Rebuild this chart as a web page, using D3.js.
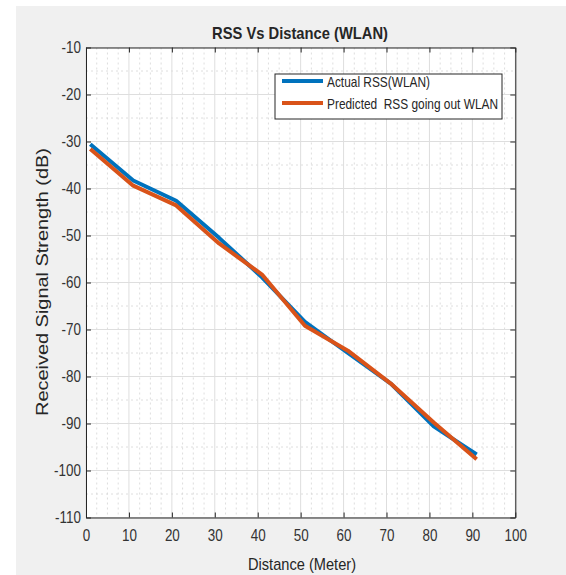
<!DOCTYPE html>
<html>
<head>
<meta charset="utf-8">
<script src="https://cdn.jsdelivr.net/npm/d3@7"></script>
<style>
  body { margin: 0; background: #fff; }
  text { font-family: "Liberation Sans", Arial, sans-serif; fill: #262626; }
</style>
</head>
<body>
<script>
const distance = [1, 11, 21, 31, 41, 51, 61, 71, 81, 91]
const actualRss = [-30.6, -38.3, -42.6, -50.5, -58.9, -68.4, -75.0, -81.5, -90.6, -96.6]
const predictedRss = [-31.6, -39.4, -43.6, -51.7, -58.3, -69.2, -74.5, -81.5, -89.8, -97.6]
const xTicks = [0, 10, 20, 30, 40, 50, 60, 70, 80, 90, 100]
const yTicks = [-10, -20, -30, -40, -50, -60, -70, -80, -90, -100, -110]
const seriesNames = ["Actual RSS(WLAN)", "Predicted  RSS going out WLAN"]
const seriesColors = ["#0072BD", "#D95319"]

const W = 566, H = 575
const plot = { left: 86, right: 515.3, top: 47.5, bottom: 517.5 }
const squeeze = 0.84 // the picture's text is horizontally narrow

const svg = d3.select("body").append("svg")
  .attr("width", W)
  .attr("height", H)

// figure background
svg.append("rect")
  .attr("x", 16).attr("y", 6)
  .attr("width", W - 16).attr("height", H - 6)
  .style("fill", "#f0f0f0")

const x = d3.scaleLinear().domain([0, 100]).range([plot.left, plot.right])
const y = d3.scaleLinear().domain([-110, -10]).range([plot.bottom, plot.top])

svg.append("rect")
  .attr("x", plot.left).attr("y", plot.top)
  .attr("width", plot.right - plot.left).attr("height", plot.bottom - plot.top)
  .style("fill", "white")

// minor grid
const xMinor = d3.range(0, 100.01, 2.5).filter(v => v % 10 !== 0)
const yMinor = d3.range(-110, -9.99, 5).filter(v => v % 10 !== 0)
const grid = svg.append("g")
grid.selectAll(".xm").data(xMinor).join("line")
  .attr("x1", d => x(d)).attr("x2", d => x(d))
  .attr("y1", plot.top).attr("y2", plot.bottom)
  .style("stroke", "#d6d6d6").style("stroke-dasharray", "2,3").style("stroke-width", 0.8)
grid.selectAll(".ym").data(yMinor).join("line")
  .attr("x1", plot.left).attr("x2", plot.right)
  .attr("y1", d => y(d)).attr("y2", d => y(d))
  .style("stroke", "#d6d6d6").style("stroke-dasharray", "2,3").style("stroke-width", 0.8)

// major grid
grid.selectAll(".xg").data(xTicks).join("line")
  .attr("x1", d => x(d)).attr("x2", d => x(d))
  .attr("y1", plot.top).attr("y2", plot.bottom)
  .style("stroke", "#dedede").style("stroke-width", 1)
grid.selectAll(".yg").data(yTicks).join("line")
  .attr("x1", plot.left).attr("x2", plot.right)
  .attr("y1", d => y(d)).attr("y2", d => y(d))
  .style("stroke", "#dedede").style("stroke-width", 1)

// axes (ticks point inward, box on all sides)
const styleAxis = (g) => {
  g.selectAll("path").style("stroke", "#262626")
  g.selectAll("line").style("stroke", "#262626")
  g.selectAll("text")
    .style("font-size", "16px")
    .style("fill", "#333")
}

const plain = d => String(d) // hyphen minus like the original, not d3's U+2212

svg.append("g").attr("transform", `translate(0,${plot.bottom})`)
  .call(d3.axisBottom(x).tickValues(xTicks).tickFormat(plain).tickSizeInner(-5).tickSizeOuter(0).tickPadding(12))
  .call(styleAxis)
  .call(g => g.selectAll("text").attr("transform", `scale(${squeeze},1)`))

svg.append("g").attr("transform", `translate(${plot.left},0)`)
  .call(d3.axisLeft(y).tickValues(yTicks).tickFormat(plain).tickSizeInner(-5).tickSizeOuter(0).tickPadding(6))
  .call(styleAxis)
  .call(g => g.selectAll("text").attr("transform", `scale(${squeeze},1)`))

svg.append("g").attr("transform", `translate(0,${plot.top})`)
  .call(d3.axisTop(x).tickValues(xTicks).tickSizeInner(-5).tickSizeOuter(0).tickFormat(""))
  .call(styleAxis)

svg.append("g").attr("transform", `translate(${plot.right},0)`)
  .call(d3.axisRight(y).tickValues(yTicks).tickSizeInner(-5).tickSizeOuter(0).tickFormat(""))
  .call(styleAxis)

// lines
const line = d3.line().x(d => x(d[0])).y(d => y(d[1]))
const series = [actualRss, predictedRss]
series.forEach((values, i) => {
  svg.append("path")
    .datum(distance.map((d, j) => [d, values[j]]))
    .attr("d", line)
    .style("fill", "none")
    .style("stroke", seriesColors[i])
    .style("stroke-width", 4)
    .style("stroke-linejoin", "round")
})

// legend
const legend = svg.append("g")
legend.append("rect")
  .attr("x", 275).attr("y", 74)
  .attr("width", 227).attr("height", 45)
  .style("fill", "white").style("stroke", "#262626").style("stroke-width", 1)

const legendText = [103, 171]
seriesNames.forEach((name, i) => {
  const ly = 81 + i * 22
  legend.append("line")
    .attr("x1", 282).attr("x2", 323)
    .attr("y1", ly).attr("y2", ly)
    .style("stroke", seriesColors[i]).style("stroke-width", 4)
  legend.append("text")
    .attr("x", 327).attr("y", ly + 6)
    .style("font-size", "15px")
    .style("white-space", "pre")
    .attr("textLength", legendText[i])
    .attr("lengthAdjust", "spacingAndGlyphs")
    .text(name)
})

// title and labels
svg.append("text")
  .attr("x", 300).attr("y", 39)
  .attr("text-anchor", "middle")
  .style("font-size", "17px").style("font-weight", "bold")
  .attr("textLength", 176)
  .attr("lengthAdjust", "spacingAndGlyphs")
  .text("RSS Vs Distance (WLAN)")

svg.append("text")
  .attr("x", 302).attr("y", 570)
  .attr("text-anchor", "middle")
  .style("font-size", "17px")
  .attr("textLength", 108)
  .attr("lengthAdjust", "spacingAndGlyphs")
  .text("Distance (Meter)")

svg.append("text")
  .attr("transform", `translate(48,282) rotate(-90)`)
  .attr("text-anchor", "middle")
  .style("font-size", "17px")
  .attr("textLength", 268)
  .attr("lengthAdjust", "spacingAndGlyphs")
  .text("Received Signal Strength (dB)")
</script>
</body>
</html>
